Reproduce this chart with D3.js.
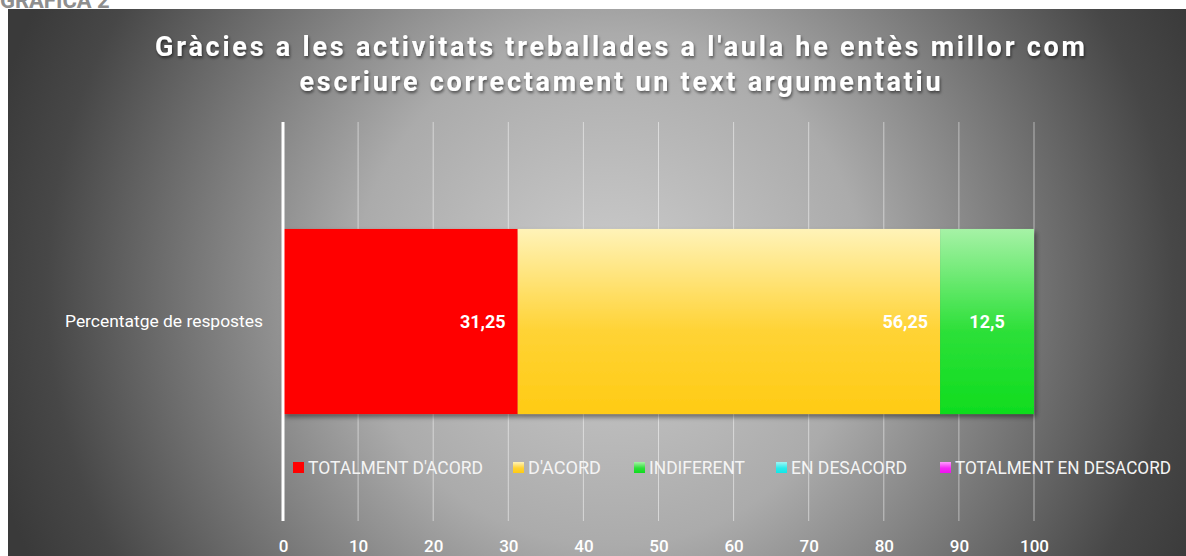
<!DOCTYPE html>
<html>
<head>
<meta charset="utf-8">
<script src="https://cdn.jsdelivr.net/npm/d3@7"></script>
<style>
body { margin: 0; background: white; }
svg { display: block; }
</style>
</head>
<body>
<svg></svg>
<script>
var w = 1186
var h = 556

var titleLines = ["Gràcies a les activitats treballades a l'aula he entès millor com",
                  "escriure correctament un text argumentatiu"]
var categories = ["Percentatge de respostes"]
var seriesNames = ["TOTALMENT D'ACORD", "D'ACORD", "INDIFERENT", "EN DESACORD", "TOTALMENT EN DESACORD"]
var seriesValues = [31.25, 56.25, 12.5, 0, 0]
var valueLabels = ["31,25", "56,25", "12,5", "", ""]
var tickValues = [0, 10, 20, 30, 40, 50, 60, 70, 80, 90, 100]

// top / bottom colours of each series gradient
var colorsTop = ["#ff0000", "#fff3b8", "#a6f2a6", "#9ff5f5", "#ff9cff"]
var colorsBottom = ["#ff0000", "#ffcb14", "#0fdc1e", "#10e8e8", "#f010f0"]

var svg = d3.select("svg")
    .attr("width", w)
    .attr("height", h)

var defs = svg.append("defs")

// background radial gradient
var bg = defs.append("radialGradient")
    .attr("id", "bgGrad")
    .attr("gradientUnits", "userSpaceOnUse")
    .attr("cx", 610).attr("cy", 290).attr("r", 640)
bg.append("stop").attr("offset", 0).attr("stop-color", "#cdcdcd")
bg.append("stop").attr("offset", 0.4).attr("stop-color", "#ababab")
bg.append("stop").attr("offset", 0.88).attr("stop-color", "#474747")
bg.append("stop").attr("offset", 1).attr("stop-color", "#3a3a3a")

seriesNames.forEach(function(s, i){
    var g = defs.append("linearGradient")
        .attr("id", "grad" + i)
        .attr("x1", 0).attr("y1", 0).attr("x2", 0).attr("y2", 1)
    g.append("stop").attr("offset", 0).attr("stop-color", colorsTop[i])
    g.append("stop").attr("offset", 0.55).attr("stop-color", d3.interpolateRgb(colorsTop[i], colorsBottom[i])(0.8))
    g.append("stop").attr("offset", 1).attr("stop-color", colorsBottom[i])
})

var shadow = defs.append("filter").attr("id", "barShadow")
    .attr("x", "-5%").attr("y", "-5%").attr("width", "115%").attr("height", "115%")
shadow.append("feDropShadow")
    .attr("dx", 2).attr("dy", 3).attr("stdDeviation", 2.5)
    .attr("flood-color", "#000").attr("flood-opacity", 0.45)

var tshadow = defs.append("filter").attr("id", "titleShadow")
tshadow.append("feDropShadow")
    .attr("dx", 1).attr("dy", 2).attr("stdDeviation", 1.5)
    .attr("flood-color", "#000").attr("flood-opacity", 0.55)

// page header (cut off at the top, as in the original page)
svg.append("text")
    .attr("x", 0).attr("y", 8)
    .attr("font-family", "Roboto, sans-serif")
    .attr("font-weight", "bold")
    .attr("font-size", 22)
    .attr("fill", "#8e8e8e")
    .text("GRÀFICA 2")

svg.append("rect")
    .attr("x", 8).attr("y", 9)
    .attr("width", w - 8).attr("height", h - 9)
    .attr("fill", "url(#bgGrad)")

// title
var titleWidths = [930, 641]
svg.append("g").selectAll("text")
    .data(titleLines)
    .join("text")
    .attr("x", 620)
    .attr("y", function(d, i){ return 56 + i * 35 })
    .attr("text-anchor", "middle")
    .attr("font-family", "Roboto, sans-serif")
    .attr("font-weight", "bold")
    .attr("font-size", 27)
    .attr("fill", "#ffffff")
    .attr("textLength", function(d, i){ return titleWidths[i] })
    .attr("lengthAdjust", "spacing")
    .style("filter", "url(#titleShadow)")
    .text(function(d){ return d })

// scales
var x = d3.scaleLinear().domain([0, 100]).range([283, 1034])
var y = d3.scaleBand().domain(categories).range([122, 521]).paddingInner(0).paddingOuter(0.578)

// gridlines
svg.append("g").selectAll("line")
    .data(tickValues.filter(function(d){ return d > 0 }))
    .join("line")
    .attr("x1", function(d){ return x(d) }).attr("x2", function(d){ return x(d) })
    .attr("y1", 122).attr("y2", 521)
    .attr("stroke", "rgba(255,255,255,0.5)")
    .attr("stroke-width", 1)

// tick labels
var xAxis = svg.append("g")
    .attr("transform", "translate(0,540)")
    .call(d3.axisBottom(x).tickValues(tickValues).tickSize(0).tickPadding(0))
xAxis.select(".domain").remove()
xAxis.selectAll("text")
    .attr("font-family", "Roboto, sans-serif")
    .attr("font-size", 17)
    .attr("font-weight", 500)
    .attr("fill", "#ffffff")

// stacked segments
var stackData = []
var acc = 0
seriesValues.forEach(function(v, i){
    stackData.push({name: seriesNames[i], x0: acc, x1: acc + v, idx: i, label: valueLabels[i]})
    acc += v
})
var segs = stackData.filter(function(d){ return d.x1 > d.x0 })

var barG = svg.append("g").style("filter", "url(#barShadow)")
barG.selectAll("rect")
    .data(segs)
    .join("rect")
    .attr("x", function(d){ return x(d.x0) })
    .attr("width", function(d){ return x(d.x1) - x(d.x0) })
    .attr("y", y(categories[0]))
    .attr("height", y.bandwidth())
    .attr("fill", function(d){ return "url(#grad" + d.idx + ")" })

// zero axis line
svg.append("line")
    .attr("x1", x(0)).attr("x2", x(0))
    .attr("y1", 122).attr("y2", 521)
    .attr("stroke", "#ffffff")
    .attr("stroke-width", 3)

// value labels
svg.append("g").selectAll("text")
    .data(segs)
    .join("text")
    .attr("x", function(d){
        var wd = x(d.x1) - x(d.x0)
        return wd < 120 ? (x(d.x0) + x(d.x1)) / 2 : x(d.x1) - 12
    })
    .attr("text-anchor", function(d){ return (x(d.x1) - x(d.x0)) < 120 ? "middle" : "end" })
    .attr("y", y(categories[0]) + y.bandwidth() / 2)
    .attr("dy", "0.35em")
    .attr("font-family", "Roboto, sans-serif")
    .attr("font-weight", "bold")
    .attr("font-size", 18)
    .attr("fill", "#ffffff")
    .text(function(d){ return d.label })

// category label
svg.append("g").selectAll("text")
    .data(categories)
    .join("text")
    .attr("x", 263)
    .attr("y", function(d){ return y(d) + y.bandwidth() / 2 })
    .attr("dy", "0.35em")
    .attr("text-anchor", "end")
    .attr("font-family", "Roboto, sans-serif")
    .attr("font-size", 16)
    .attr("fill", "#ffffff")
    .attr("textLength", 198)
    .attr("lengthAdjust", "spacingAndGlyphs")
    .text(function(d){ return d })

// legend
var legendX = [293, 513, 634, 776, 940]
var legendTextW = [175, 73, 96, 116, 216]
var legend = svg.append("g").selectAll("g")
    .data(seriesNames)
    .join("g")
    .attr("transform", function(d, i){ return "translate(" + legendX[i] + ",462)" })
legend.append("rect")
    .attr("width", 11).attr("height", 11)
    .attr("fill", function(d, i){ return "url(#grad" + i + ")" })
legend.append("text")
    .attr("x", 15).attr("y", 5.5)
    .attr("dy", "0.35em")
    .attr("font-family", "Roboto, sans-serif")
    .attr("font-size", 18)
    .attr("fill", "#f4f4f4")
    .attr("textLength", function(d, i){ return legendTextW[i] })
    .attr("lengthAdjust", "spacingAndGlyphs")
    .text(function(d){ return d })
</script>
</body>
</html>
